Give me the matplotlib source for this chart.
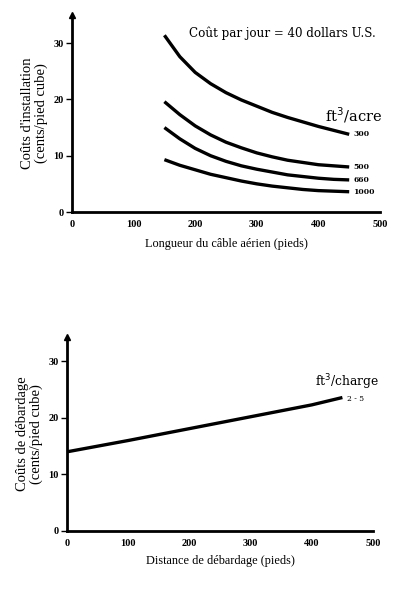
import matplotlib
matplotlib.use("Agg")
import matplotlib.pyplot as plt

plt.rcParams['font.family'] = ['Liberation Serif', 'DejaVu Serif']

# --- Top chart data: installation cost vs. skyline length ---
cable_length = [150, 175, 200, 225, 250, 275, 300, 325, 350, 375, 400, 425, 450]
cost_300 = [31.4, 27.6, 24.8, 22.8, 21.2, 19.9, 18.8, 17.7, 16.8, 16.0, 15.2, 14.5, 13.8]
cost_500 = [19.6, 17.3, 15.3, 13.7, 12.4, 11.4, 10.5, 9.8, 9.2, 8.8, 8.4, 8.2, 8.0]
cost_660 = [15.0, 13.0, 11.3, 10.0, 9.0, 8.2, 7.6, 7.1, 6.6, 6.3, 6.0, 5.8, 5.7]
cost_1000 = [9.3, 8.3, 7.5, 6.7, 6.1, 5.5, 5.0, 4.6, 4.3, 4.0, 3.8, 3.7, 3.6]
curve_labels = ["300", "500", "660", "1000"]
top_xticks = [0, 100, 200, 300, 400, 500]
top_yticks = [0, 10, 20, 30]

# --- Bottom chart data: skidding cost vs. distance ---
skid_distance = [0, 100, 200, 300, 400, 450]
skid_cost = [14.0, 16.0, 18.1, 20.2, 22.3, 23.6]
skid_label = "2 - 5"
bot_xticks = [0, 100, 200, 300, 400, 500]
bot_yticks = [0, 10, 20, 30]

W, H = 396, 589
fig = plt.figure(figsize=(W / 100, H / 100), dpi=100)

WIDE = ['DejaVu Serif']


def style_axes(ax, xticks, yticks, ytop):
    ax.set_xlim(0, 500)
    ax.set_ylim(0, ytop)
    for s in ("top", "right"):
        ax.spines[s].set_visible(False)
    for s in ("left", "bottom"):
        ax.spines[s].set_linewidth(2.0)
    ax.set_xticks(xticks)
    ax.set_yticks(yticks)
    ax.tick_params(axis="x", length=0, pad=6, labelsize=7.5)
    ax.tick_params(axis="y", length=4, width=1, direction="out", pad=2, labelsize=7.5)
    for lab in ax.get_xticklabels() + ax.get_yticklabels():
        lab.set_fontweight("bold")
    # arrow head at top of y axis
    ax.plot(0, 1, marker="^", color="black", markersize=5,
            transform=ax.get_xaxis_transform(), clip_on=False)


# Top axes
ax1 = fig.add_axes([72 / W, 1 - 212 / H, 308 / W, 197 / H])
style_axes(ax1, top_xticks, top_yticks, 35)
for ys, lab in zip([cost_300, cost_500, cost_660, cost_1000], curve_labels):
    ax1.plot(cable_length, ys, color="black", lw=2.4, solid_capstyle="butt")
    ax1.annotate(lab, (cable_length[-1], ys[-1]), xytext=(3, 0),
                 textcoords="offset points", va="center", ha="left",
                 fontsize=5.5, family=WIDE, fontweight="bold")
ax1.text(0.38, 0.905, "Coût par jour = 40 dollars U.S.",
         transform=ax1.transAxes, fontsize=8.6, ha="left", va="center",
         family=WIDE)
ax1.text(0.82, 0.49, "ft$^3$/acre", transform=ax1.transAxes,
         fontsize=10.5, ha="left", va="center", family=WIDE)
ax1.set_xlabel("Longueur du câble aérien (pieds)", fontsize=8.8, labelpad=6)
ax1.set_ylabel("Coûts d'installation\n(cents/pied cube)", fontsize=10.5,
               labelpad=4, linespacing=1.0)

# Bottom axes
ax2 = fig.add_axes([67 / W, 1 - 531 / H, 306 / W, 194 / H])
style_axes(ax2, bot_xticks, bot_yticks, 34.3)
ax2.plot(skid_distance, skid_cost, color="black", lw=2.4, solid_capstyle="butt")
ax2.annotate(skid_label, (skid_distance[-1], skid_cost[-1]), xytext=(3, -1),
             textcoords="offset points", va="center", ha="left",
             fontsize=5.5, family=WIDE)
ax2.text(0.81, 0.765, "ft$^3$/charge", transform=ax2.transAxes,
         fontsize=8.8, ha="left", va="center", family=WIDE)
ax2.set_xlabel("Distance de débardage (pieds)", fontsize=8.8, labelpad=5)
ax2.set_ylabel("Coûts de débardage\n(cents/pied cube)", fontsize=10.5,
               labelpad=4, linespacing=1.0)

fig.savefig("out.png", dpi=100)
